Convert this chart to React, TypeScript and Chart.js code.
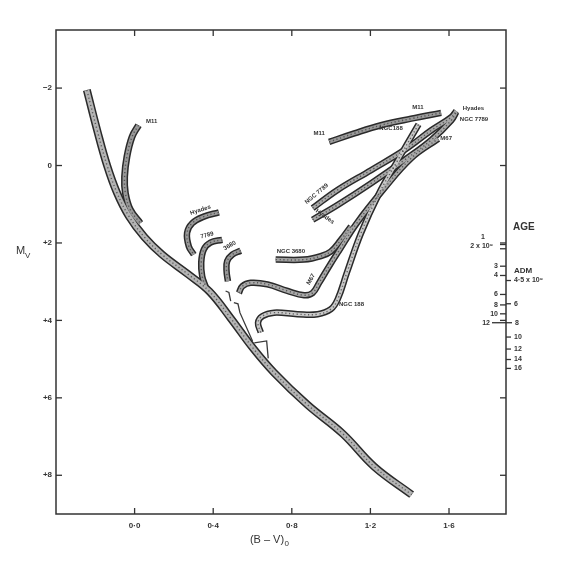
import React, { useEffect, useRef } from 'react';
import { Chart, registerables } from 'chart.js';

Chart.register(...registerables);

type P = [number, number];

// Axis ticks
const xTicks = [0, 0.4, 0.8, 1.2, 1.6];
const yTicks = [-2, 0, 2, 4, 6, 8];

// Sequences: [(B-V)0, Mv]
const mainSequence: P[] = [
  [-0.243, -1.95], [-0.19, -0.9], [-0.14, 0.0], [-0.09, 0.7], [-0.03, 1.3], [0.05, 1.85],
  [0.14, 2.3], [0.27, 2.8], [0.38, 3.25], [0.49, 3.95], [0.6, 4.7], [0.71, 5.35],
  [0.88, 6.18], [1.06, 6.93], [1.22, 7.78], [1.41, 8.5],
];
const m11Upper: P[] = [
  [0.02, -1.04], [-0.013, -0.74], [-0.039, -0.23], [-0.051, 0.29], [-0.047, 0.71], [-0.022, 1.14], [0.029, 1.49],
];
const hyadesTurnoff: P[] = [
  [0.429, 1.21], [0.352, 1.32], [0.293, 1.49], [0.267, 1.74], [0.276, 2.09], [0.301, 2.3],
];
const ngc7789Turnoff: P[] = [
  [0.446, 1.92], [0.386, 1.99], [0.352, 2.17], [0.339, 2.51], [0.344, 2.86], [0.361, 3.12],
];
const ngc3680Turnoff: P[] = [
  [0.54, 2.2], [0.497, 2.3], [0.471, 2.47], [0.468, 2.73], [0.475, 2.99],
];
const ngc3680Giants: P[] = [
  [0.718, 2.43], [0.863, 2.43], [0.948, 2.34], [0.999, 2.22], [1.05, 1.92], [1.101, 1.57],
];
const m67Branch: P[] = [
  [0.531, 3.29], [0.548, 3.12], [0.591, 3.03], [0.676, 3.07], [0.778, 3.24], [0.863, 3.35],
  [0.906, 3.29], [0.939, 3.03], [0.99, 2.6], [1.04, 2.2], [1.132, 1.48], [1.261, 0.65],
  [1.408, -0.19], [1.545, -0.69],
];
const ngc188Branch: P[] = [
  [0.642, 4.31], [0.628, 4.06], [0.65, 3.89], [0.71, 3.8], [0.829, 3.84], [0.931, 3.84],
  [0.999, 3.71], [1.033, 3.46], [1.08, 2.77], [1.151, 1.76], [1.242, 0.74], [1.334, -0.09], [1.445, -1.06],
];
const m11Giants: P[] = [
  [0.99, -0.61], [1.118, -0.83], [1.254, -1.04], [1.407, -1.21], [1.56, -1.36],
];
const ngc7789Giants: P[] = [
  [0.906, 1.1], [1.033, 0.63], [1.203, 0.12], [1.373, -0.4], [1.51, -0.91], [1.612, -1.25], [1.637, -1.41],
];
const hyadesGiants: P[] = [
  [0.906, 1.4], [1.033, 1.02], [1.203, 0.46], [1.373, -0.14], [1.51, -0.66], [1.612, -1.17], [1.637, -1.38],
];
// thin turnoff edges near the main sequence
const hookA: P[] = [[0.463, 3.24], [0.48, 3.28], [0.489, 3.5]];
const hookB: P[] = [[0.505, 3.54], [0.526, 3.57], [0.536, 3.8], [0.6, 4.53]];
const hookC: P[] = [[0.609, 4.58], [0.672, 4.53], [0.68, 4.98]];

// Age scale (positions in Mv on the right-hand axis)
const ageLeftValues = [2.04, 2.15, 2.6, 2.84, 3.33, 3.6, 3.83, 4.06];
const ageLeftLabels = ['1', '2 x 10⁹', '3', '4', '6', '8', '10', '12'];
const ageRightValues = [2.97, 3.57, 4.06, 4.43, 4.74, 5.01, 5.24];
const ageRightLabels = ['4·5 x 10⁹', '6', '8', '10', '12', '14', '16'];

// Cluster labels
const labelTexts = ['M11', 'Hyades', '7789', '3680', 'NGC 3680', 'M67', 'NGC 188', 'M11', 'M11', 'NGC188', 'Hyades', 'NGC 7789', 'M67', 'NGC 7789', 'Hyades'];
const labelX = [0.058, 0.335, 0.369, 0.484, 0.795, 0.897, 1.04, 0.939, 1.442, 1.305, 1.67, 1.655, 1.556, 0.926, 0.968];
const labelY = [-1.14, 1.15, 1.8, 2.07, 2.22, 2.94, 3.58, -0.83, -1.51, -0.96, -1.47, -1.19, -0.7, 0.73, 1.32];
const labelRot = [0, -18, -15, -30, 0, -60, 0, 0, 0, 0, 0, 0, 0, -40, 35];
const labelAlign = ['left', 'center', 'center', 'center', 'center', 'center', 'left', 'center', 'center', 'center', 'left', 'left', 'left', 'center', 'center'];

const bands: { pts: P[]; w: number; inner: string }[] = [
  { pts: mainSequence, w: 8, inner: '#b4b4b4' },
  { pts: m11Upper, w: 7, inner: '#999' },
  { pts: hyadesTurnoff, w: 6.5, inner: '#999' },
  { pts: ngc7789Turnoff, w: 6.5, inner: '#999' },
  { pts: ngc3680Turnoff, w: 6.5, inner: '#999' },
  { pts: ngc3680Giants, w: 6.5, inner: '#a0a0a0' },
  { pts: m67Branch, w: 6.5, inner: '#a8a8a8' },
  { pts: ngc188Branch, w: 6.5, inner: '#c8c8c8' },
  { pts: m11Giants, w: 6.5, inner: '#999' },
  { pts: ngc7789Giants, w: 6.5, inner: '#a8a8a8' },
  { pts: hyadesGiants, w: 6.5, inner: '#a8a8a8' },
];
const thinLines: P[][] = [hookA, hookB, hookC];

const INK = '#333';
const FONT = "'Liberation Sans', Arial, sans-serif";

const decor = {
  id: 'decor',
  afterDraw(chart: any) {
    const { ctx, chartArea: a, scales } = chart;
    const xs = scales.x;
    const ys = scales.y;
    const line = (x1: number, y1: number, x2: number, y2: number) => {
      ctx.beginPath();
      ctx.moveTo(x1, y1);
      ctx.lineTo(x2, y2);
      ctx.stroke();
    };
    ctx.save();
    ctx.strokeStyle = INK;
    ctx.lineWidth = 1.5;
    ctx.strokeRect(a.left, a.top, a.right - a.left, a.bottom - a.top);
    ctx.lineWidth = 1.3;
    xTicks.forEach((v) => {
      const px = xs.getPixelForValue(v);
      line(px, a.bottom, px, a.bottom - 6);
      line(px, a.top, px, a.top + 6);
    });
    yTicks.forEach((v) => {
      const py = ys.getPixelForValue(v);
      line(a.left, py, a.left + 6, py);
      line(a.right, py, a.right - 6, py);
    });

    // Age scale
    ctx.fillStyle = INK;
    ctx.textBaseline = 'middle';
    ctx.font = `bold 7px ${FONT}`;
    ageLeftValues.forEach((v, i) => {
      const py = ys.getPixelForValue(v);
      const len = i === ageLeftValues.length - 1 ? 14 : 6;
      line(a.right - len, py, a.right, py);
      ctx.textAlign = i === 0 ? 'center' : 'right';
      if (i === 0) ctx.fillText(ageLeftLabels[i], a.right - 23, py - 7);
      else if (i === 1) ctx.fillText(ageLeftLabels[i], a.right - 13, py - 3);
      else ctx.fillText(ageLeftLabels[i], a.right - len - 2, py);
    });
    ageRightValues.forEach((v, i) => {
      const py = ys.getPixelForValue(v);
      const len = i === 2 ? 6 : 5;
      line(a.right, py, a.right + len, py);
      ctx.textAlign = 'left';
      ctx.fillText(ageRightLabels[i], a.right + len + 3, py);
    });
    ctx.font = `bold 10px ${FONT}`;
    ctx.textAlign = 'left';
    ctx.fillText('AGE', a.right + 7, 227);
    ctx.font = `bold 8px ${FONT}`;
    ctx.fillText('ADM', a.right + 8, ys.getPixelForValue(2.71));

    // Axis titles
    ctx.font = `11px ${FONT}`;
    ctx.textAlign = 'left';
    ctx.textBaseline = 'alphabetic';
    const t = '(B – V)';
    const tw = ctx.measureText(t).width;
    const cx = (a.left + a.right) / 2 - 14;
    ctx.fillText(t, cx - tw / 2, 543);
    ctx.font = `8px ${FONT}`;
    ctx.fillText('0', cx + tw / 2 + 0.5, 546);
    ctx.font = `11px ${FONT}`;
    ctx.fillText('M', 16, 254);
    ctx.font = `8px ${FONT}`;
    ctx.fillText('V', 25, 258);

    // Cluster labels
    ctx.font = `bold 6px ${FONT}`;
    ctx.textBaseline = 'middle';
    labelTexts.forEach((txt, i) => {
      const px = xs.getPixelForValue(labelX[i]);
      const py = ys.getPixelForValue(labelY[i]);
      ctx.save();
      ctx.translate(px, py);
      ctx.rotate((labelRot[i] * Math.PI) / 180);
      ctx.textAlign = labelAlign[i] as CanvasTextAlign;
      ctx.fillText(txt, 0, 0);
      ctx.restore();
    });
    ctx.restore();
  },
};

export default function App() {
  const ref = useRef<HTMLCanvasElement>(null);
  useEffect(() => {
    if (!ref.current) return;
    const datasets: any[] = [];
    bands.forEach((b) => {
      const data = b.pts.map(([x, y]) => ({ x, y }));
      datasets.push({
        data, showLine: true, pointRadius: 0, tension: 0.4,
        borderColor: '#2a2a2a', borderWidth: b.w, borderCapStyle: 'butt', borderJoinStyle: 'round',
        order: 3,
      });
      datasets.push({
        data, showLine: true, pointRadius: 0, tension: 0.4,
        borderColor: b.inner, borderWidth: b.w - 3, borderCapStyle: 'butt', borderJoinStyle: 'round',
        order: 2,
      });
      datasets.push({
        data, showLine: true, pointRadius: 0, tension: 0.4,
        borderColor: 'rgba(60,60,60,0.75)', borderWidth: 1.4, borderDash: [1.2, 2.6], borderCapStyle: 'butt',
        order: 1,
      });
    });
    thinLines.forEach((pts) => {
      datasets.push({
        data: pts.map(([x, y]) => ({ x, y })),
        showLine: true, pointRadius: 0, tension: 0,
        borderColor: '#3a3a3a', borderWidth: 1.3,
        order: 0,
      });
    });
    const tickFont = { family: FONT, size: 8, weight: 'bold' as const };
    const chart = new Chart(ref.current, {
      type: 'scatter',
      data: { datasets },
      options: {
        animation: false,
        responsive: false,
        layout: { padding: { top: 30, right: 57, left: 0, bottom: 0 } },
        plugins: { legend: { display: false }, tooltip: { enabled: false } },
        scales: {
          x: {
            type: 'linear', min: -0.4, max: 1.89,
            grid: { display: false, drawTicks: false },
            border: { display: false },
            afterBuildTicks: (s: any) => { s.ticks = xTicks.map((v) => ({ value: v })); },
            afterFit: (s: any) => { s.height = 52; },
            ticks: {
              padding: 7, color: INK, font: tickFont,
              callback: (v: any) => Number(v).toFixed(1).replace('.', '·'),
            },
          },
          y: {
            type: 'linear', reverse: true, min: -3.5, max: 9,
            grid: { display: false, drawTicks: false },
            border: { display: false },
            afterBuildTicks: (s: any) => { s.ticks = yTicks.map((v) => ({ value: v })); },
            afterFit: (s: any) => { s.width = 56; },
            ticks: {
              padding: 4, color: INK, font: tickFont,
              callback: (v: any) => (Number(v) > 0 ? '+' + v : Number(v) < 0 ? '−' + Math.abs(Number(v)) : '0'),
            },
          },
        },
      },
      plugins: [decor],
    });
    return () => chart.destroy();
  }, []);
  return (
    <div style={{ position: 'absolute', left: 0, top: 0, width: 563, height: 566, background: '#fff' }}>
      <canvas ref={ref} width={563} height={566} />
    </div>
  );
}
